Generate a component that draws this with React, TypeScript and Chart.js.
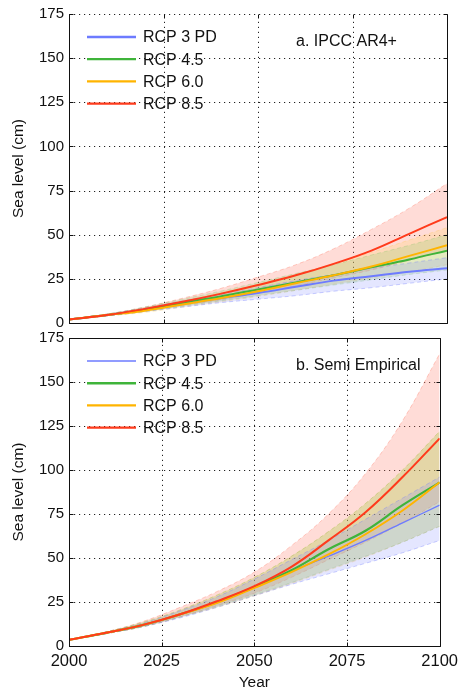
import React, { useEffect, useRef } from "react";
import { Chart, registerables } from "chart.js";
Chart.register(...registerables);

const years = [2000, 2010, 2020, 2030, 2040, 2050, 2060, 2070, 2080, 2090, 2100];
const seriesNames = ["RCP 3 PD", "RCP 4.5", "RCP 6.0", "RCP 8.5"];
const lineColors = ["#6d7bff", "#3fb43a", "#ffb400", "#ff3b1c"];
const bandFill = ["rgba(120,130,255,0.20)", "rgba(130,200,100,0.22)", "rgba(255,205,80,0.22)", "rgba(255,130,110,0.28)"];
const bandEdge = ["rgba(110,120,255,0.35)", "rgba(110,190,90,0.25)", "rgba(255,190,60,0.25)", "rgba(255,120,100,0.35)"];
const yTicks = [0, 25, 50, 75, 100, 125, 150, 175];
const xTicks = [2000, 2025, 2050, 2075, 2100];

// Panel a: IPCC AR4+
const ar4Med3PD = [2, 4.5, 7.5, 11, 14, 17, 20.5, 24, 26.5, 29, 31];
const ar4Low3PD = [2, 4, 6.5, 9, 11.5, 13.5, 15.5, 18, 20, 22.5, 25];
const ar4High3PD = [2, 5, 8.5, 12.5, 16, 20, 24, 27.5, 31, 34, 37];
const ar4Med45 = [2, 4.5, 7.5, 11.5, 15, 19, 23, 27, 31.5, 36, 41];
const ar4Low45 = [2, 4, 6.5, 9.5, 12.5, 15.5, 18.5, 21.5, 24.5, 27.5, 30];
const ar4High45 = [2, 5, 9, 13.5, 18, 23, 28, 33, 38.5, 44, 50];
const ar4Med60 = [2, 4.5, 7, 10.5, 14, 18, 22.5, 27, 32, 38, 44];
const ar4Low60 = [2, 4, 6, 9, 12, 15, 18.5, 22, 25.5, 29, 33];
const ar4High60 = [2, 5, 8.5, 12.5, 17, 22, 27.5, 33.5, 40, 47, 54];
const ar4Med85 = [2, 4.5, 8, 12, 16.5, 21.5, 27, 33.5, 41, 50.5, 60];
const ar4Low85 = [2, 4, 7, 10, 13, 17, 21, 25.5, 30, 35.5, 41];
const ar4High85 = [2, 5, 9, 14, 19.5, 26, 33, 42, 53, 65, 79];

// Panel b: Semi Empirical
const seMed3PD = [3.5, 7.5, 12, 18, 25, 33.5, 42.5, 51, 60, 70, 80];
const seLow3PD = [3.5, 7, 11, 16, 22, 28.5, 35, 41, 47, 53, 60];
const seHigh3PD = [3.5, 8, 13, 20, 28, 38, 49, 60, 72, 84, 96];
const seMed45 = [3.5, 7.5, 12, 18, 25, 33.5, 43, 55, 65.5, 80, 93];
const seLow45 = [3.5, 7, 11, 16.5, 22.5, 29, 36, 43.5, 51, 59, 68];
const seHigh45 = [3.5, 8, 13.5, 20.5, 29, 39, 51, 65, 81, 100, 122];
const seMed60 = [3.5, 7.5, 12, 18, 24.5, 33, 42, 52, 63.5, 77, 93];
const seLow60 = [3.5, 7, 11, 16.5, 22, 28.5, 35.5, 43, 50.5, 59, 68];
const seHigh60 = [3.5, 8, 13.5, 20.5, 29, 39, 51, 65, 81, 100, 122];
const seMed85 = [3.5, 7.5, 12, 18, 25.5, 34, 45, 60, 76, 96, 118];
const seLow85 = [3.5, 7, 11, 16.5, 23, 30, 39, 49, 59, 70, 82];
const seHigh85 = [3.5, 8, 14, 22, 31, 42, 57, 75, 98, 128, 166];

const FONT = "'Liberation Sans', Arial, Helvetica, sans-serif";

type Panel = {
  label: string;
  med: number[][];
  low: number[][];
  high: number[][];
  widths: number[];
  showX: boolean;
  height: number;
  top: number;
  topDotted: boolean;
};

const panels: Panel[] = [
  {
    label: "a. IPCC AR4+",
    med: [ar4Med3PD, ar4Med45, ar4Med60, ar4Med85],
    low: [ar4Low3PD, ar4Low45, ar4Low60, ar4Low85],
    high: [ar4High3PD, ar4High45, ar4High60, ar4High85],
    widths: [2, 2, 2, 2],
    showX: false,
    height: 340,
    top: 0,
    topDotted: true,
  },
  {
    label: "b. Semi Empirical",
    med: [seMed3PD, seMed45, seMed60, seMed85],
    low: [seLow3PD, seLow45, seLow60, seLow85],
    high: [seHigh3PD, seHigh45, seHigh60, seHigh85],
    widths: [1.3, 2.2, 2, 2],
    showX: true,
    height: 368,
    top: 324,
    topDotted: false,
  },
];

const pts = (arr: number[]) => years.map((x, i) => ({ x, y: arr[i] }));

function buildDatasets(p: Panel) {
  const ds: any[] = [];
  const bandOrder = [3, 2, 1, 0];
  bandOrder.forEach((s, k) => {
    const lowIdx = ds.length;
    ds.push({
      label: seriesNames[s] + " low",
      data: pts(p.low[s]),
      borderColor: bandEdge[s],
      borderWidth: 1,
      borderDash: [4, 3],
      pointRadius: 0,
      fill: false,
      tension: 0.4,
      order: 40 - k * 2,
    });
    ds.push({
      label: seriesNames[s] + " high",
      data: pts(p.high[s]),
      borderColor: bandEdge[s],
      borderWidth: 1,
      borderDash: [4, 3],
      pointRadius: 0,
      backgroundColor: bandFill[s],
      fill: lowIdx,
      tension: 0.4,
      order: 40 - k * 2 - 1,
    });
  });
  [0, 1, 2, 3].forEach((s) => {
    ds.push({
      label: seriesNames[s],
      data: pts(p.med[s]),
      borderColor: lineColors[s],
      borderWidth: p.widths[s],
      pointRadius: 0,
      fill: false,
      tension: 0.4,
      order: 3 - s,
    });
  });
  return ds;
}

function makeDeco(p: Panel) {
  return {
    id: "deco" + (p.showX ? "b" : "a"),
    beforeDatasetsDraw(chart: any) {
      const { ctx, chartArea } = chart;
      const { left, right, top, bottom } = chartArea;
      const xs = chart.scales.x;
      const ys = chart.scales.y;
      ctx.save();
      ctx.strokeStyle = "#222";
      ctx.lineWidth = 1;
      ctx.setLineDash([1.2, 3.8]);
      ctx.beginPath();
      xTicks.forEach((v) => {
        const x = Math.round(xs.getPixelForValue(v)) + 0.5;
        ctx.moveTo(x, bottom);
        ctx.lineTo(x, top);
      });
      yTicks.forEach((v) => {
        const y = Math.round(ys.getPixelForValue(v)) + 0.5;
        ctx.moveTo(left, y);
        ctx.lineTo(right, y);
      });
      ctx.stroke();
      ctx.restore();
    },
    afterDraw(chart: any) {
      const { ctx, chartArea } = chart;
      const { left, right, top, bottom } = chartArea;
      const xs = chart.scales.x;
      const ys = chart.scales.y;
      ctx.save();
      ctx.strokeStyle = "#111";
      ctx.lineWidth = 1;
      ctx.setLineDash([]);
      const L = Math.round(left) + 0.5;
      const R = Math.round(right) + 0.5;
      const T = Math.round(top) + 0.5;
      const B = Math.round(bottom) + 0.5;
      ctx.beginPath();
      if (!p.topDotted) {
        ctx.moveTo(L, T);
        ctx.lineTo(R, T);
      }
      ctx.moveTo(R, T);
      ctx.lineTo(R, B);
      ctx.lineTo(L, B);
      ctx.lineTo(L, T);
      xTicks.forEach((v) => {
        const x = Math.round(xs.getPixelForValue(v)) + 0.5;
        ctx.moveTo(x, B);
        ctx.lineTo(x, B - 4);
        ctx.moveTo(x, T);
        ctx.lineTo(x, T + 4);
      });
      yTicks.forEach((v) => {
        const y = Math.round(ys.getPixelForValue(v)) + 0.5;
        ctx.moveTo(L, y);
        ctx.lineTo(L + 4, y);
        ctx.moveTo(R, y);
        ctx.lineTo(R - 4, y);
      });
      ctx.stroke();

      // legend
      ctx.font = "16px " + FONT;
      ctx.textBaseline = "middle";
      ctx.textAlign = "left";
      seriesNames.forEach((name, i) => {
        const y = top + 23 + i * 22.2;
        ctx.strokeStyle = lineColors[i];
        ctx.lineWidth = p.widths[i] + 0.3;
        ctx.beginPath();
        ctx.moveTo(left + 18, y);
        ctx.lineTo(left + 67, y);
        ctx.stroke();
        ctx.fillStyle = "#111";
        ctx.fillText(name, left + 74, y + 1);
      });
      // panel label
      ctx.fillText(p.label, left + 227, top + 28);
      ctx.restore();
    },
  };
}

function PanelChart({ p }: { p: Panel }) {
  const ref = useRef<HTMLCanvasElement | null>(null);
  useEffect(() => {
    if (!ref.current) return;
    const chart = new Chart(ref.current, {
      type: "line",
      data: { datasets: buildDatasets(p) },
      options: {
        animation: false,
        responsive: false,
        layout: { padding: { top: 14, right: 17, left: 0, bottom: 0 } },
        plugins: { legend: { display: false }, tooltip: { enabled: false } },
        scales: {
          x: {
            type: "linear",
            min: 2000,
            max: 2100,
            afterBuildTicks: (s: any) => {
              s.ticks = xTicks.map((v) => ({ value: v }));
            },
            afterFit: (s: any) => {
              s.height = p.showX ? 46 : 17;
            },
            grid: { display: false, drawTicks: false },
            border: { display: false },
            ticks: {
              display: p.showX,
              padding: 6,
              color: "#111",
              font: { family: FONT, size: 16.5 },
              callback: (v: any) => String(v),
              maxRotation: 0,
              autoSkip: false,
            },
            title: {
              display: p.showX,
              text: "Year",
              color: "#111",
              font: { family: FONT, size: 15.5 },
              padding: { top: 0, bottom: 0 },
            },
          },
          y: {
            type: "linear",
            min: 0,
            max: 175,
            afterBuildTicks: (s: any) => {
              s.ticks = yTicks.map((v) => ({ value: v }));
            },
            afterFit: (s: any) => {
              s.width = 69;
            },
            grid: { display: false, drawTicks: false },
            border: { display: false },
            ticks: {
              padding: 5,
              color: "#111",
              font: { family: FONT, size: 15 },
              autoSkip: false,
            },
            title: {
              display: true,
              text: "Sea level (cm)",
              color: "#111",
              font: { family: FONT, size: 15.5 },
              padding: { top: 9, bottom: 0 },
            },
          },
        },
      } as any,
      plugins: [makeDeco(p)],
    });
    return () => chart.destroy();
  }, [p]);
  return (
    <canvas
      ref={ref}
      width={464}
      height={p.height}
      style={{ position: "absolute", left: 0, top: p.top, width: 464, height: p.height }}
    />
  );
}

export default function App() {
  return (
    <div style={{ position: "absolute", left: 0, top: 0, width: 464, height: 692, background: "#fff" }}>
      {panels.map((p) => (
        <PanelChart key={p.label} p={p} />
      ))}
    </div>
  );
}
